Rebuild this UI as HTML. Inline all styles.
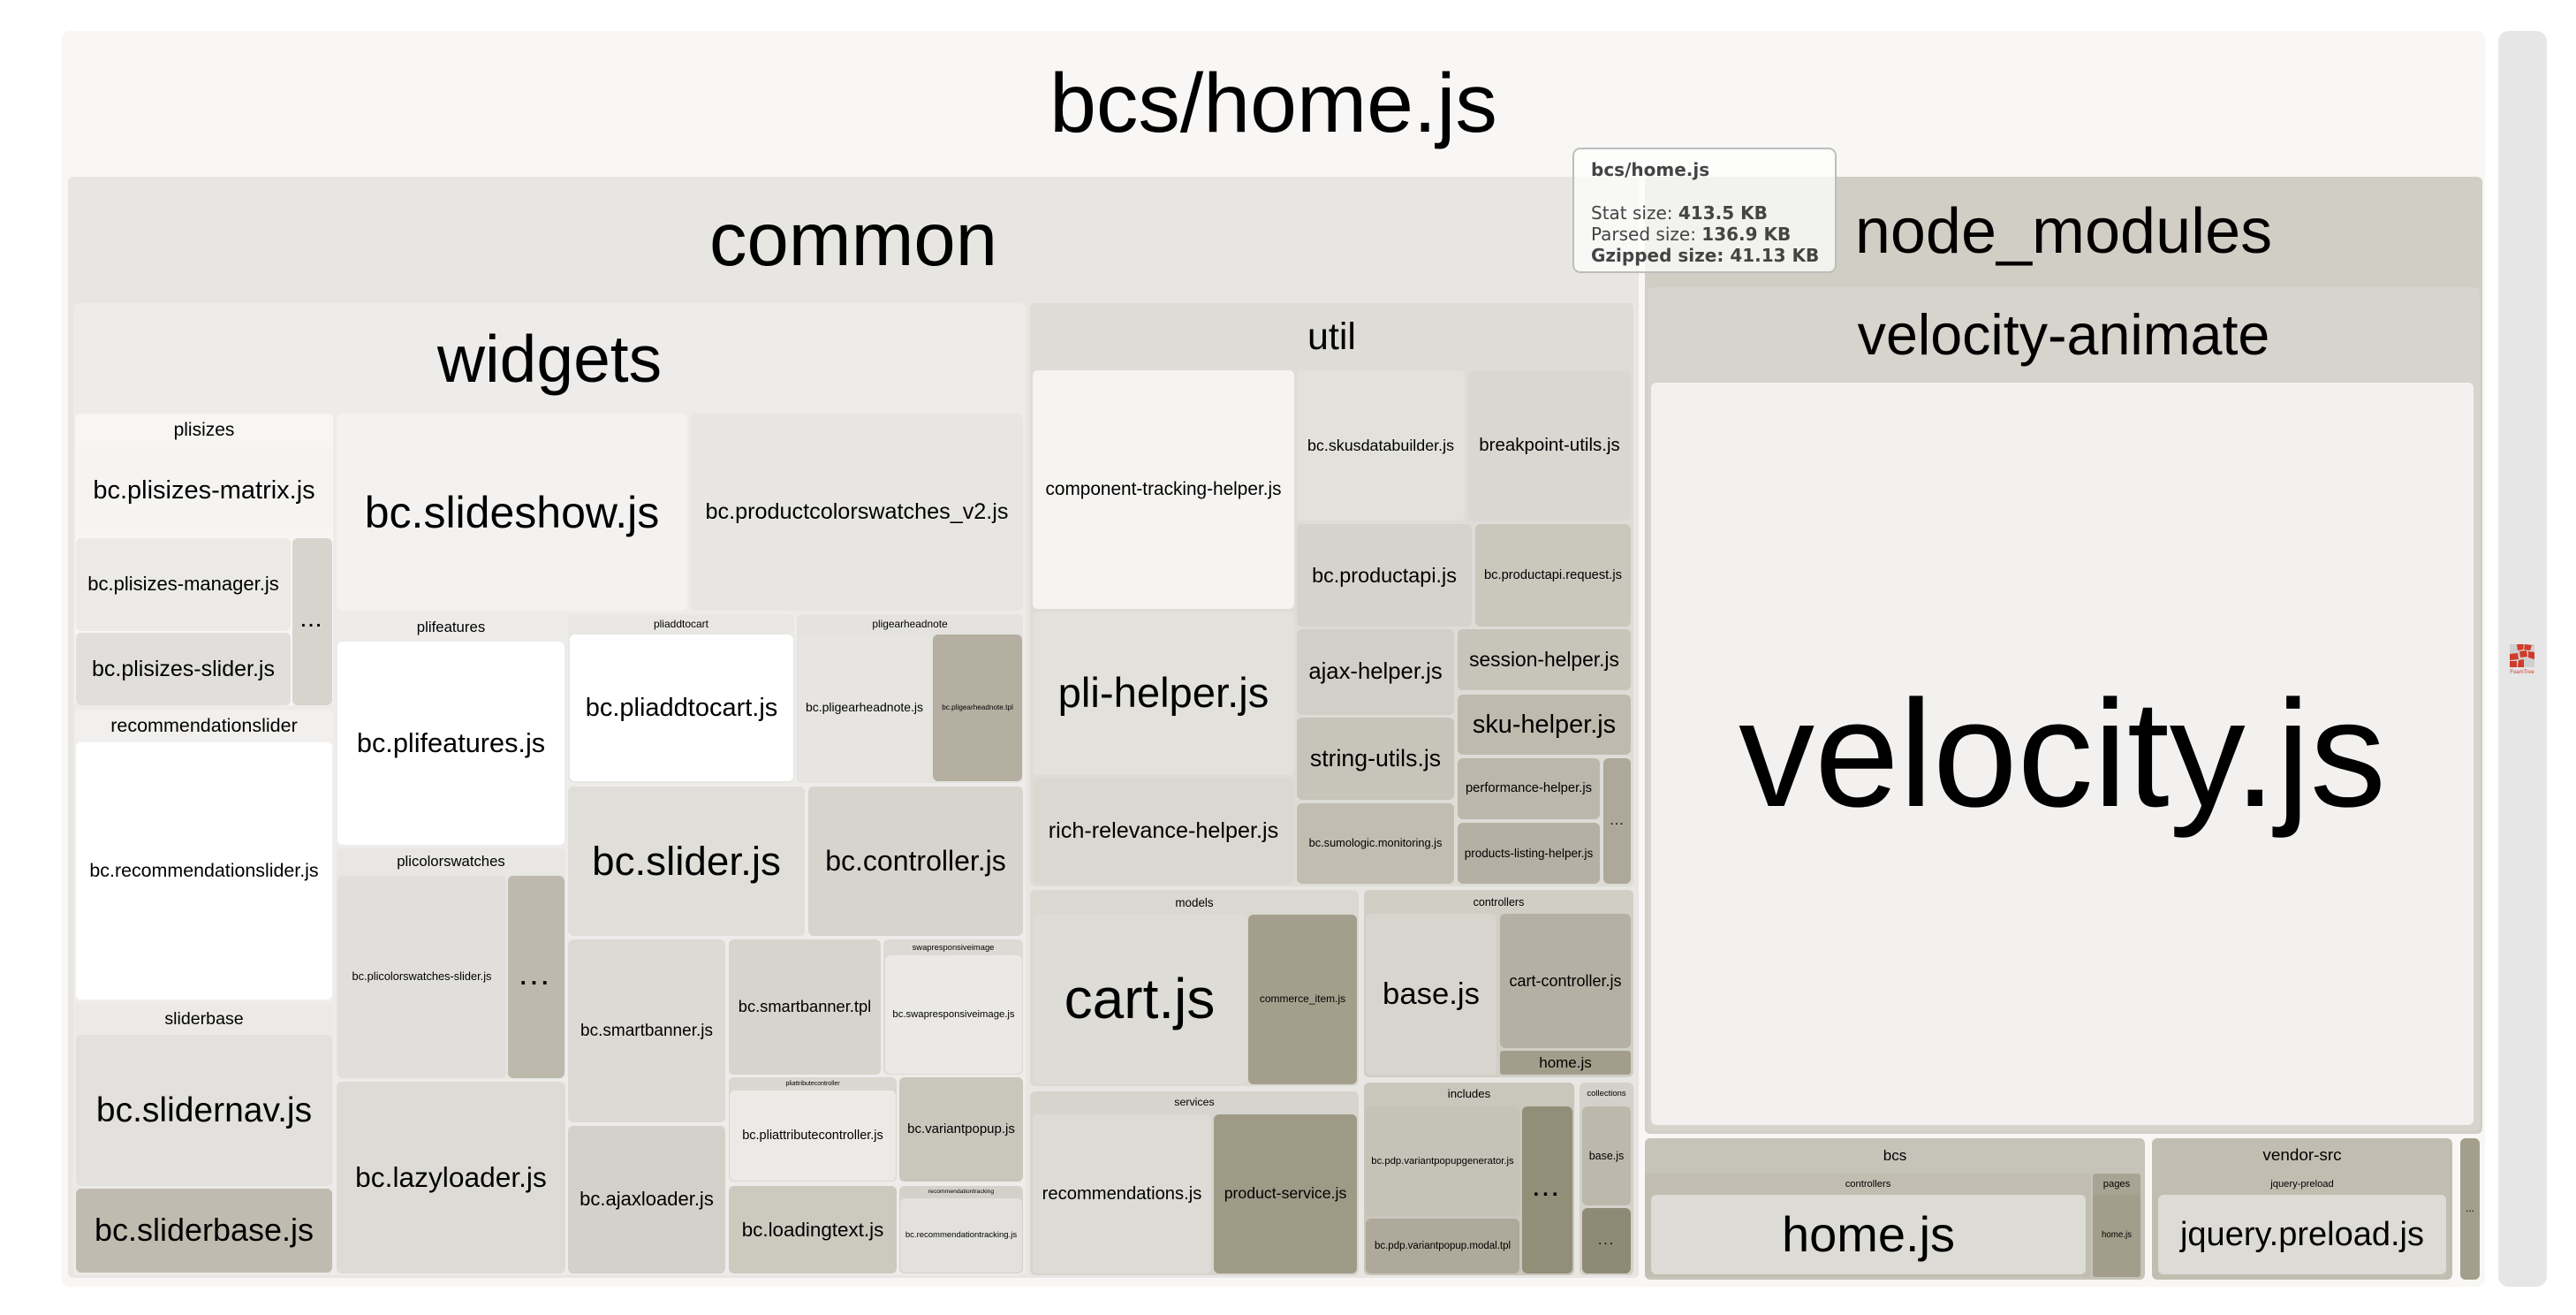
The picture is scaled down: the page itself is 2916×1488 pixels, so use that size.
<!DOCTYPE html>
<html>
<head>
<meta charset="utf-8">
<style>
html,body{margin:0;padding:0;background:#ffffff;}
body{width:2916px;height:1488px;position:relative;overflow:hidden;font-family:"Liberation Sans",Arial,sans-serif;color:#000;}
.b{position:absolute;display:flex;align-items:center;justify-content:center;text-align:center;border-radius:6px;white-space:nowrap;overflow:hidden;line-height:1.12;box-sizing:border-box;}
.l{position:absolute;display:flex;align-items:center;justify-content:center;text-align:center;white-space:nowrap;line-height:1.12;}
.d{font-weight:bold;letter-spacing:4px;}
.tip{position:absolute;left:1780px;top:167px;width:299px;height:142px;box-sizing:border-box;border:2px solid #bdbdbd;border-radius:9px;background:rgba(255,255,255,0.72);font-family:"DejaVu Sans",Verdana,sans-serif;font-size:20px;line-height:24.3px;color:#444;padding:11px 0 0 19px;white-space:nowrap;}
.tip b{font-weight:bold;}
</style>
</head>
<body>

<!-- outer -->
<div class="b" style="left:70px;top:35px;width:2743px;height:1421px;background:#f8f7f5;border-radius:9px;"></div>
<div class="l" style="left:70px;top:35px;width:2743px;height:165px;font-size:95px;">bcs/home.js</div>

<!-- common -->
<div class="b" style="left:77px;top:200px;width:1778px;height:1246px;background:#e7e6e2;"></div>
<div class="l" style="left:77px;top:200px;width:1778px;height:143px;font-size:85px;">common</div>

<!-- widgets -->
<div class="b" style="left:83px;top:343px;width:1078px;height:1100px;background:#edecea;"></div>
<div class="l" style="left:83px;top:343px;width:1078px;height:125px;font-size:75px;">widgets</div>

<!-- plisizes -->
<div class="b" style="left:85px;top:468px;width:292px;height:330px;background:#f7f6f4;"></div>
<div class="l" style="left:85px;top:468px;width:292px;height:38px;font-size:21px;">plisizes</div>
<div class="b" style="left:86px;top:506px;width:290px;height:99px;background:#f5f4f2;font-size:29px;">bc.plisizes-matrix.js</div>
<div class="b" style="left:86px;top:609px;width:243px;height:105px;background:#ebeae7;font-size:22px;">bc.plisizes-manager.js</div>
<div class="b" style="left:86px;top:716px;width:243px;height:82px;background:#e0dfdb;font-size:25px;">bc.plisizes-slider.js</div>
<div class="b d" style="left:331px;top:609px;width:45px;height:189px;background:#d6d4cd;font-size:20px;letter-spacing:3px;">...</div>

<!-- recommendationslider -->
<div class="b" style="left:85px;top:803px;width:292px;height:330px;background:#f1f0ee;"></div>
<div class="l" style="left:85px;top:803px;width:292px;height:37px;font-size:21.5px;">recommendationslider</div>
<div class="b" style="left:86px;top:840px;width:290px;height:291px;background:#ffffff;font-size:21.4px;">bc.recommendationslider.js</div>

<!-- sliderbase -->
<div class="b" style="left:85px;top:1136px;width:292px;height:306px;background:#eceae7;"></div>
<div class="l" style="left:85px;top:1136px;width:292px;height:35px;font-size:19.6px;">sliderbase</div>
<div class="b" style="left:86px;top:1171px;width:290px;height:171px;background:#e2e1dd;font-size:39px;">bc.slidernav.js</div>
<div class="b" style="left:86px;top:1345px;width:290px;height:95px;background:#bfbbaf;font-size:36px;">bc.sliderbase.js</div>

<div class="b" style="left:381px;top:468px;width:397px;height:223px;background:#f3f2f0;font-size:50px;">bc.slideshow.js</div>
<div class="b" style="left:782px;top:468px;width:376px;height:223px;background:#e7e6e2;font-size:25.2px;">bc.productcolorswatches_v2.js</div>

<!-- plifeatures -->
<div class="b" style="left:381px;top:695px;width:259px;height:263px;background:#edecea;"></div>
<div class="l" style="left:381px;top:695px;width:259px;height:31px;font-size:16.8px;">plifeatures</div>
<div class="b" style="left:382px;top:726px;width:257px;height:230px;background:#ffffff;font-size:30.7px;">bc.plifeatures.js</div>

<!-- plicolorswatches -->
<div class="b" style="left:381px;top:960px;width:259px;height:261px;background:#e8e7e3;"></div>
<div class="l" style="left:381px;top:960px;width:259px;height:31px;font-size:16.7px;">plicolorswatches</div>
<div class="b" style="left:382px;top:991px;width:191px;height:229px;background:#e0dfdb;font-size:12.8px;">bc.plicolorswatches-slider.js</div>
<div class="b d" style="left:575px;top:991px;width:64px;height:229px;background:#bdb9ad;font-size:26px;letter-spacing:5px;">...</div>

<div class="b" style="left:381px;top:1224px;width:259px;height:217px;background:#dddbd5;font-size:31.7px;">bc.lazyloader.js</div>

<!-- pliaddtocart -->
<div class="b" style="left:643px;top:695px;width:256px;height:191px;background:#e8e7e3;"></div>
<div class="l" style="left:643px;top:695px;width:256px;height:23px;font-size:12px;">pliaddtocart</div>
<div class="b" style="left:645px;top:718px;width:253px;height:166px;background:#ffffff;font-size:29px;">bc.pliaddtocart.js</div>

<!-- pligearheadnote -->
<div class="b" style="left:902px;top:695px;width:256px;height:191px;background:#e4e3df;"></div>
<div class="l" style="left:902px;top:695px;width:256px;height:23px;font-size:11.9px;">pligearheadnote</div>
<div class="b" style="left:903px;top:718px;width:151px;height:166px;background:#e6e5e1;font-size:14px;">bc.pligearheadnote.js</div>
<div class="b" style="left:1056px;top:718px;width:101px;height:166px;background:#b5afa1;font-size:8.2px;">bc.pligearheadnote.tpl</div>

<div class="b" style="left:643px;top:890px;width:268px;height:169px;background:#dfded9;font-size:45.8px;">bc.slider.js</div>
<div class="b" style="left:915px;top:890px;width:243px;height:169px;background:#d6d4cd;font-size:32px;">bc.controller.js</div>
<div class="b" style="left:643px;top:1063px;width:178px;height:207px;background:#dcdad4;font-size:19px;">bc.smartbanner.js</div>
<div class="b" style="left:643px;top:1274px;width:178px;height:167px;background:#d3d1ca;font-size:22px;">bc.ajaxloader.js</div>
<div class="b" style="left:825px;top:1063px;width:172px;height:153px;background:#d6d4cd;font-size:18.3px;">bc.smartbanner.tpl</div>

<div class="b" style="left:1000px;top:1063px;width:158px;height:153px;background:#dcdad4;"></div>
<div class="l" style="left:1000px;top:1063px;width:158px;height:18px;font-size:9.4px;">swapresponsiveimage</div>
<div class="b" style="left:1002px;top:1081px;width:155px;height:134px;background:#eae9e6;font-size:11.3px;">bc.swapresponsiveimage.js</div>

<div class="b" style="left:825px;top:1219px;width:190px;height:118px;background:#d9d7d0;"></div>
<div class="l" style="left:825px;top:1219px;width:190px;height:15px;font-size:7px;">pliattributecontroller</div>
<div class="b" style="left:826px;top:1234px;width:188px;height:102px;background:#eceae7;font-size:14.5px;">bc.pliattributecontroller.js</div>

<div class="b" style="left:1018px;top:1219px;width:140px;height:118px;background:#c9c6bc;font-size:15px;">bc.variantpopup.js</div>
<div class="b" style="left:825px;top:1342px;width:190px;height:99px;background:#ccc9bf;font-size:22.4px;">bc.loadingtext.js</div>

<div class="b" style="left:1018px;top:1342px;width:140px;height:99px;background:#d3d1ca;"></div>
<div class="l" style="left:1018px;top:1342px;width:140px;height:14px;font-size:6.8px;">recommendationtracking</div>
<div class="b" style="left:1019px;top:1356px;width:138px;height:84px;background:#e2e1dd;font-size:9.5px;">bc.recommendationtracking.js</div>

<!-- util -->
<div class="b" style="left:1166px;top:343px;width:683px;height:660px;background:#dddcd7;"></div>
<div class="l" style="left:1166px;top:343px;width:683px;height:76px;font-size:43px;">util</div>
<div class="b" style="left:1169px;top:419px;width:296px;height:270px;background:#f5f4f2;font-size:20.8px;">component-tracking-helper.js</div>
<div class="b" style="left:1468px;top:419px;width:190px;height:170px;background:#e2e1dc;font-size:17.9px;">bc.skusdatabuilder.js</div>
<div class="b" style="left:1662px;top:419px;width:184px;height:170px;background:#d9d7d0;font-size:20.5px;">breakpoint-utils.js</div>
<div class="b" style="left:1468px;top:593px;width:198px;height:116px;background:#d5d3cc;font-size:23.4px;">bc.productapi.js</div>
<div class="b" style="left:1670px;top:593px;width:176px;height:116px;background:#cac7bd;font-size:14.7px;">bc.productapi.request.js</div>
<div class="b" style="left:1468px;top:712px;width:178px;height:97px;background:#d1cfc7;font-size:25.7px;">ajax-helper.js</div>
<div class="b" style="left:1468px;top:812px;width:178px;height:93px;background:#c7c4ba;font-size:26.7px;">string-utils.js</div>
<div class="b" style="left:1468px;top:909px;width:178px;height:91px;background:#c1bdb1;font-size:12.8px;">bc.sumologic.monitoring.js</div>
<div class="b" style="left:1650px;top:712px;width:196px;height:69px;background:#c7c4ba;font-size:22.8px;">session-helper.js</div>
<div class="b" style="left:1650px;top:786px;width:196px;height:68px;background:#bebaae;font-size:28.9px;">sku-helper.js</div>
<div class="b" style="left:1650px;top:858px;width:161px;height:69px;background:#bbb7ab;font-size:14.8px;">performance-helper.js</div>
<div class="b" style="left:1650px;top:931px;width:161px;height:69px;background:#b5b0a3;font-size:13.5px;">products-listing-helper.js</div>
<div class="b" style="left:1815px;top:858px;width:31px;height:142px;background:#ada899;font-size:16px;letter-spacing:1px;">...</div>
<div class="b" style="left:1169px;top:693px;width:296px;height:184px;background:#e2e1dc;font-size:47.2px;">pli-helper.js</div>
<div class="b" style="left:1169px;top:881px;width:296px;height:119px;background:#dad8d1;font-size:25.2px;">rich-relevance-helper.js</div>

<!-- models -->
<div class="b" style="left:1166px;top:1007px;width:372px;height:222px;background:#dad8d1;"></div>
<div class="l" style="left:1166px;top:1007px;width:372px;height:28px;font-size:13.4px;">models</div>
<div class="b" style="left:1169px;top:1035px;width:242px;height:192px;background:#dddcd6;font-size:64px;">cart.js</div>
<div class="b" style="left:1413px;top:1035px;width:123px;height:192px;background:#a49f8c;font-size:12px;">commerce_item.js</div>

<!-- controllers -->
<div class="b" style="left:1544px;top:1007px;width:305px;height:212px;background:#d0cec5;"></div>
<div class="l" style="left:1544px;top:1007px;width:305px;height:27px;font-size:12.5px;">controllers</div>
<div class="b" style="left:1546px;top:1034px;width:148px;height:182px;background:#d7d5ce;font-size:34.7px;">base.js</div>
<div class="b" style="left:1698px;top:1034px;width:148px;height:152px;background:#b5b0a3;font-size:18px;">cart-controller.js</div>
<div class="b" style="left:1698px;top:1189px;width:148px;height:27px;background:#a39e8b;font-size:17px;border-radius:3px;">home.js</div>

<!-- services -->
<div class="b" style="left:1166px;top:1235px;width:372px;height:208px;background:#d6d4cd;"></div>
<div class="l" style="left:1166px;top:1235px;width:372px;height:26px;font-size:12.4px;">services</div>
<div class="b" style="left:1169px;top:1261px;width:202px;height:180px;background:#dddbd5;font-size:20.2px;">recommendations.js</div>
<div class="b" style="left:1374px;top:1261px;width:162px;height:180px;background:#9f9a86;font-size:17.7px;">product-service.js</div>

<!-- includes -->
<div class="b" style="left:1544px;top:1225px;width:238px;height:218px;background:#c9c6bc;"></div>
<div class="l" style="left:1544px;top:1225px;width:238px;height:27px;font-size:13.2px;">includes</div>
<div class="b" style="left:1546px;top:1252px;width:174px;height:124px;background:#c5c2b7;font-size:11.3px;">bc.pdp.variantpopupgenerator.js</div>
<div class="b" style="left:1546px;top:1379px;width:174px;height:62px;background:#aea99a;font-size:11.5px;">bc.pdp.variantpopup.modal.tpl</div>
<div class="b d" style="left:1723px;top:1252px;width:57px;height:189px;background:#938e78;font-size:24px;letter-spacing:4px;">...</div>

<!-- collections -->
<div class="b" style="left:1788px;top:1225px;width:61px;height:218px;background:#d3d1ca;"></div>
<div class="l" style="left:1788px;top:1225px;width:61px;height:27px;font-size:9.5px;">collections</div>
<div class="b" style="left:1791px;top:1252px;width:55px;height:112px;background:#bcb8ac;font-size:12.5px;">base.js</div>
<div class="b" style="left:1791px;top:1367px;width:55px;height:74px;background:#8f8a75;font-size:16px;letter-spacing:2px;">...</div>

<!-- node_modules -->
<div class="b" style="left:1862px;top:200px;width:948px;height:1083px;background:#d1cfc5;"></div>
<div class="l" style="left:1862px;top:200px;width:948px;height:125px;font-size:72px;">node_modules</div>
<div class="b" style="left:1865px;top:325px;width:942px;height:955px;background:#d6d4cd;"></div>
<div class="l" style="left:1865px;top:325px;width:942px;height:108px;font-size:64.6px;">velocity-animate</div>
<div class="b" style="left:1869px;top:433px;width:931px;height:840px;background:#f2f1ef;font-size:172px;">velocity.js</div>

<!-- bcs -->
<div class="b" style="left:1862px;top:1288px;width:566px;height:160px;background:#c6c3b8;"></div>
<div class="l" style="left:1862px;top:1288px;width:566px;height:40px;font-size:17px;">bcs</div>
<div class="b" style="left:1862px;top:1328px;width:505px;height:117px;background:#c1bdb1;border-radius:3px;"></div>
<div class="l" style="left:1862px;top:1328px;width:505px;height:24px;font-size:11.2px;">controllers</div>
<div class="b" style="left:1869px;top:1352px;width:492px;height:90px;background:#dddbd5;font-size:56px;">home.js</div>
<div class="b" style="left:2369px;top:1328px;width:54px;height:117px;background:#a8a392;border-radius:3px;"></div>
<div class="l" style="left:2369px;top:1328px;width:54px;height:24px;font-size:11.2px;">pages</div>
<div class="b" style="left:2369px;top:1352px;width:54px;height:93px;background:#a39e8b;font-size:9.7px;border-radius:3px;">home.js</div>

<!-- vendor-src -->
<div class="b" style="left:2436px;top:1288px;width:340px;height:160px;background:#c1bdb1;"></div>
<div class="l" style="left:2436px;top:1288px;width:340px;height:40px;font-size:18.9px;">vendor-src</div>
<div class="l" style="left:2436px;top:1328px;width:340px;height:24px;font-size:11.2px;">jquery-preload</div>
<div class="b" style="left:2443px;top:1352px;width:326px;height:90px;background:#dddbd5;font-size:38px;">jquery.preload.js</div>

<div class="b" style="left:2785px;top:1288px;width:22px;height:160px;background:#a49f8c;font-size:12px;letter-spacing:0px;">...</div>

<!-- scrollbar -->
<div class="b" style="left:2828px;top:35px;width:55px;height:1421px;background:#e6e6e6;border-radius:12px;"></div>
<svg style="position:absolute;left:2840px;top:728px;" width="30" height="36" viewBox="0 0 30 36">
  <rect x="1" y="1" width="28" height="26" fill="#cfcfcf"/>
  <polygon points="9,1 17,1 16,7 10,8" fill="#d23a2a"/>
  <polygon points="18,1 26,2 24,8 17,7" fill="#d23a2a"/>
  <polygon points="12,9 20,8 21,15 13,16" fill="#d23a2a"/>
  <polygon points="22,9 29,10 29,18 22,16" fill="#d23a2a"/>
  <polygon points="1,12 10,11 11,18 1,19" fill="#d23a2a"/>
  <polygon points="1,20 9,20 9,27 1,27" fill="#d23a2a"/>
  <polygon points="11,19 17,18 17,27 10,27" fill="#d23a2a"/>
  <text x="15" y="34" font-family="Liberation Sans, sans-serif" font-size="6" fill="#d23a2a" text-anchor="middle">FoamTree</text>
</svg>

<!-- tooltip -->
<div class="tip"><b>bcs/home.js</b><br><br>Stat size: <b>413.5 KB</b><br>Parsed size: <b>136.9 KB</b><br><b>Gzipped size: 41.13 KB</b></div>

</body>
</html>
